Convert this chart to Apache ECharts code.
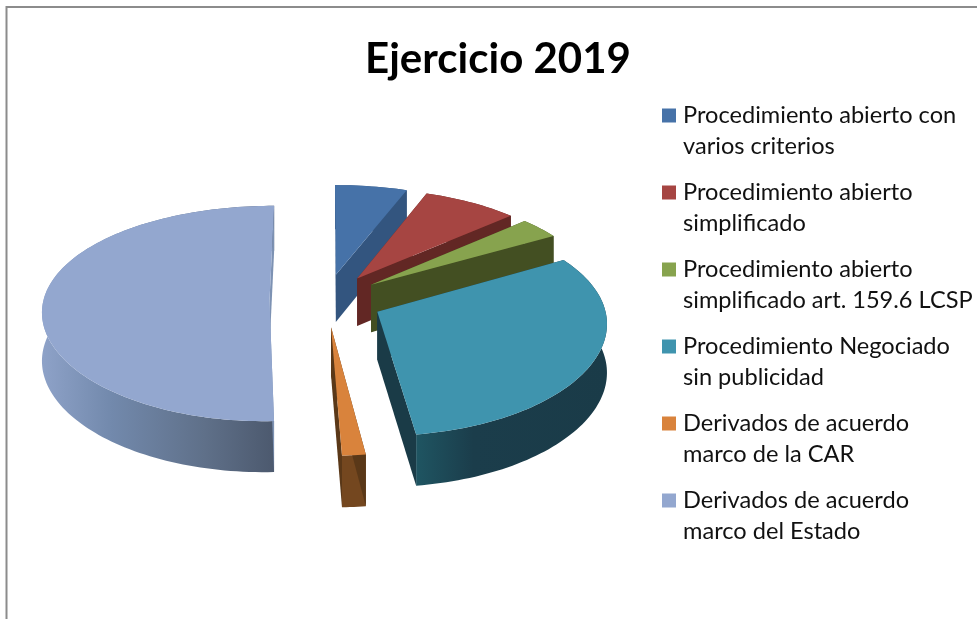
<!DOCTYPE html>
<html>
<head>
<meta charset="utf-8">
<style>html,body{margin:0;padding:0;background:#fff}#c{width:977px;height:619px}</style>
<script src="https://cdn.jsdelivr.net/npm/echarts@6/dist/echarts.min.js"></script>
</head>
<body>
<div id="c"></div>
<script>
var chartTitle = 'Ejercicio 2019';
var categories = [
  'Procedimiento abierto con varios criterios',
  'Procedimiento abierto simplificado',
  'Procedimiento abierto simplificado art. 159.6 LCSP',
  'Procedimiento Negociado sin publicidad',
  'Derivados de acuerdo marco de la CAR',
  'Derivados de acuerdo marco del Estado'
];
var legendLines = [
  'Procedimiento abierto con\nvarios criterios',
  'Procedimiento abierto\nsimplificado',
  'Procedimiento abierto\nsimplificado art. 159.6 LCSP',
  'Procedimiento Negociado\nsin publicidad',
  'Derivados de acuerdo\nmarco de la CAR',
  'Derivados de acuerdo\nmarco del Estado'
];
var values = [5.7, 7.6, 3.3, 31.25, 1.5, 50.65];
var topColors = ['#4672a8', '#a64542', '#87a34e', '#3f94ae', '#d9833c', '#93a7cf'];
var wallColors = ['#33557f', '#622724', '#434f22', '#1b3d4b', '#74471f', '#5d6c8a'];
var innerWallColors = ['#33557f', '#622724', '#434f22', '#1a3b47', '#5a3818', '#7d92b3'];

var CX = 326, CY = 300, RX = 226, RY = 106, PERSP_X = 0.09, PERSP_Y = 0.12, EXPLODE = 0.25, WALL = 48;

var total = values.reduce(function (a, b) { return a + b; }, 0);
var starts = [];
values.reduce(function (acc, v, i) { starts[i] = acc; return acc + v; }, 0);

function project(u, v) {
  return [CX + RX * u / (1 - PERSP_X * v), CY + RY * v / (1 - PERSP_Y * v)];
}
function drop(p, v) { return [p[0], p[1] + WALL + 3 * v]; }

function sliceRender(index) {
  return function (params, api) {
    var value = api.value(0);
    var a0 = starts[index] / total * Math.PI * 2;
    var a1 = a0 + value / total * Math.PI * 2;
    var mid = (a0 + a1) / 2;
    var ou = EXPLODE * Math.sin(mid), ov = -EXPLODE * Math.cos(mid);
    var apex = project(ou, ov);
    var apexLow = drop(apex, ov);
    var top = [], low = [];
    var steps = Math.max(6, Math.round((a1 - a0) * 40));
    for (var i = 0; i <= steps; i++) {
      var a = a0 + (a1 - a0) * i / steps;
      var u = ou + Math.sin(a), v = ov - Math.cos(a);
      var p = project(u, v);
      top.push(p);
      low.push(drop(p, v));
    }
    var arcWall = top.concat(low.slice().reverse());
    var arcFill = wallColors[index];
    if (index === 5) {
      arcFill = new echarts.graphic.LinearGradient(0, 0, 1, 0, [
        { offset: 0, color: '#8ea2c8' }, { offset: 0.3, color: '#7289ac' },
        { offset: 0.7, color: '#5f7089' }, { offset: 1, color: '#4c596e' }
      ]);
    } else if (index === 3) {
      arcFill = new echarts.graphic.LinearGradient(0, 0, 1, 0, [
        { offset: 0, color: '#1f5562' }, { offset: 0.3, color: '#1b3d4b' },
        { offset: 1, color: '#1a3b48' }
      ]);
    }
    var n = top.length - 1;
    return {
      type: 'group',
      children: [
        { type: 'polygon', shape: { points: arcWall }, style: { fill: arcFill } },
        { type: 'polygon', shape: { points: [apex, top[0], low[0], apexLow] }, style: { fill: innerWallColors[index] } },
        { type: 'polygon', shape: { points: [apex, top[n], low[n], apexLow] }, style: { fill: innerWallColors[index] } },
        { type: 'polygon', shape: { points: [apex].concat(top) }, style: { fill: topColors[index] } }
      ]
    };
  };
}

var chart = echarts.init(document.getElementById('c'), null, { renderer: 'canvas' });
chart.setOption({
  animation: false,
  backgroundColor: '#ffffff',
  title: {
    text: chartTitle, left: 493, top: 33, textAlign: 'center',
    textStyle: { fontFamily: 'Lato', fontWeight: 'bold', fontSize: 42, color: '#000000' }
  },
  legend: {
    orient: 'vertical', left: 662, top: 100, padding: 0,
    itemWidth: 16, itemHeight: 45, itemGap: 15, selectedMode: false,
    icon: 'path://M0 0H14V14H0ZM16 45H16',
    data: categories,
    formatter: function (name) { return legendLines[categories.indexOf(name)]; },
    textStyle: { fontFamily: 'Lato', fontSize: 23.6, lineHeight: 31, color: '#111111' }
  },
  graphic: [
    { type: 'line', shape: { x1: 6.5, y1: 6, x2: 6.5, y2: 619 }, style: { stroke: '#8c8c8c', lineWidth: 2 } },
    { type: 'line', shape: { x1: 6, y1: 7, x2: 977, y2: 7 }, style: { stroke: '#8c8c8c', lineWidth: 2 } }
  ],
  series: categories.map(function (name, i) {
    return {
      type: 'custom', name: name, coordinateSystem: 'none',
      itemStyle: { color: topColors[i] },
      renderItem: sliceRender(i),
      data: [[values[i]]],
      silent: true
    };
  })
});
</script>
</body>
</html>
